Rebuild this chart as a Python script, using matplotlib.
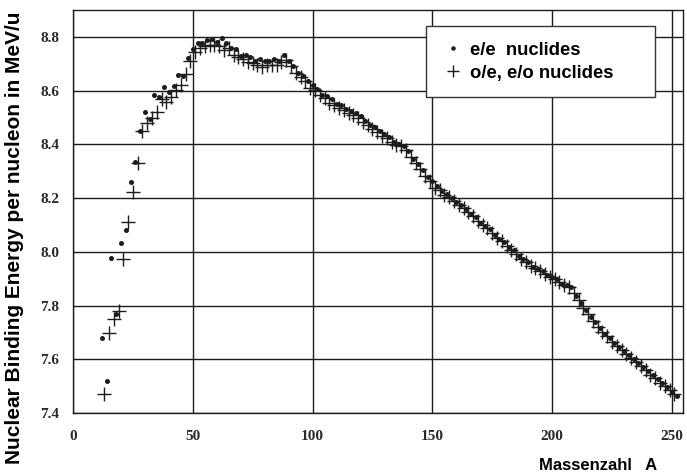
import matplotlib
matplotlib.use("Agg")
import matplotlib.pyplot as plt
from matplotlib.patches import Rectangle
from matplotlib.font_manager import FontProperties

# ---------------- data ----------------
# even mass numbers (e/e nuclides)
ee_A = list(range(12, 253, 2))
ee_B = [7.680, 7.520, 7.976, 7.767, 8.032, 8.080, 8.261, 8.334, 8.448, 8.521,
        8.493, 8.584, 8.575, 8.614, 8.595, 8.617, 8.658, 8.656, 8.723, 8.756,
        8.776, 8.778, 8.790, 8.792, 8.781, 8.795, 8.777, 8.760, 8.756, 8.730,
        8.732, 8.725, 8.711, 8.718, 8.711, 8.711, 8.717, 8.712, 8.733, 8.710, 8.693,
        8.667, 8.654, 8.635, 8.619, 8.607, 8.585, 8.580, 8.567, 8.551, 8.545,
        8.532, 8.523, 8.517, 8.505, 8.488, 8.473, 8.463, 8.449, 8.438, 8.428,
        8.408, 8.403, 8.394, 8.376, 8.346, 8.327, 8.304, 8.280, 8.262, 8.244,
        8.225, 8.215, 8.202, 8.184, 8.173, 8.159, 8.142, 8.130, 8.106, 8.097,
        8.084, 8.061, 8.049, 8.035, 8.018, 8.005, 7.983, 7.973, 7.962, 7.942,
        7.936, 7.927, 7.914, 7.906, 7.897, 7.880, 7.875, 7.868, 7.834, 7.810,
        7.785, 7.759, 7.737, 7.717, 7.694, 7.680, 7.662, 7.645, 7.631, 7.615,
        7.601, 7.586, 7.570, 7.556, 7.541, 7.525, 7.511, 7.497, 7.480, 7.465]

# odd mass numbers (o/e, e/o nuclides)
oe_A = list(range(13, 252, 2))
oe_B = [7.470, 7.699, 7.751, 7.779, 7.972, 8.112, 8.223, 8.332, 8.449, 8.481,
        8.498, 8.520, 8.570, 8.557, 8.576, 8.601, 8.619, 8.661, 8.711, 8.742,
        8.760, 8.765, 8.770, 8.768, 8.765, 8.752, 8.757, 8.734, 8.725, 8.718,
        8.705, 8.701, 8.695, 8.688, 8.696, 8.696, 8.697, 8.705, 8.714, 8.693,
        8.664, 8.649, 8.635, 8.609, 8.601, 8.584, 8.571, 8.554, 8.548, 8.537,
        8.527, 8.517, 8.510, 8.499, 8.482, 8.472, 8.458, 8.445, 8.431, 8.424,
        8.410, 8.398, 8.392, 8.378, 8.354, 8.330, 8.309, 8.281, 8.263, 8.239,
        8.229, 8.213, 8.204, 8.189, 8.173, 8.162, 8.147, 8.132, 8.115, 8.098,
        8.087, 8.069, 8.052, 8.039, 8.023, 8.008, 7.991, 7.974, 7.963, 7.948,
        7.938, 7.927, 7.916, 7.905, 7.898, 7.887, 7.878, 7.870, 7.848, 7.819,
        7.791, 7.768, 7.744, 7.721, 7.701, 7.685, 7.665, 7.651, 7.635, 7.618,
        7.604, 7.591, 7.575, 7.560, 7.543, 7.530, 7.512, 7.501, 7.486, 7.470]

x_ticks = [0, 50, 100, 150, 200, 250]
y_ticks = [7.4, 7.6, 7.8, 8.0, 8.2, 8.4, 8.6, 8.8]
x_tick_labels = ["0", "50", "100", "150", "200", "250"]
y_tick_labels = ["7.4", "7.6", "7.8", "8.0", "8.2", "8.4", "8.6", "8.8"]

legend_labels = ["e/e  nuclides", "o/e, e/o nuclides"]
y_label = "Nuclear Binding Energy per nucleon in MeV/u"
x_label = "Massenzahl   A"

# ---------------- figure ----------------
W, H = 687, 475
fig = plt.figure(figsize=(W / 100, H / 100), dpi=100)
ax_l, ax_r, ax_t, ax_b = 73, 683, 10, 413
ax = fig.add_axes([ax_l / W, 1 - ax_b / H, (ax_r - ax_l) / W, (ax_b - ax_t) / H])

ink = "#1c1c1c"
ax.set_xlim(0, 254.6)
ax.set_ylim(7.4, 8.9)

ax.set_xticks(x_ticks)
ax.set_xticklabels(x_tick_labels)
ax.set_yticks(y_ticks)
ax.set_yticklabels(y_tick_labels)
ax.tick_params(axis="both", length=0, colors=ink)
ax.tick_params(axis="x", pad=12)
ax.tick_params(axis="y", pad=10)
for lab in ax.get_xticklabels() + ax.get_yticklabels():
    lab.set_fontfamily("Liberation Serif")
    lab.set_fontsize(11)
    lab.set_fontweight("bold")
    lab.set_color("#2a2a2a")

ax.grid(True, color=ink, linewidth=1.0)
ax.set_axisbelow(True)
for sp in ax.spines.values():
    sp.set_color(ink)
    sp.set_linewidth(1.0)

h1, = ax.plot(ee_A, ee_B, linestyle="none", marker="o", markersize=3.6,
              color=ink, markeredgewidth=0, label=legend_labels[0], zorder=3)
h2, = ax.plot(oe_A, oe_B, linestyle="none", marker="+", markersize=9.5,
              markeredgewidth=1.0, color=ink, label=legend_labels[1], zorder=3)

# legend box
bx0, bx1, by0, by1 = 426, 655, 26, 97
ax.add_patch(Rectangle(((bx0 - ax_l) / (ax_r - ax_l), (ax_b - by1) / (ax_b - ax_t)),
                       (bx1 - bx0) / (ax_r - ax_l), (by1 - by0) / (ax_b - ax_t),
                       transform=ax.transAxes, facecolor="white", edgecolor="#333333",
                       linewidth=1.0, zorder=4))
leg_font = FontProperties(family="Liberation Sans", weight="bold", style="normal", size=13.3)
leg = ax.legend(handles=[h1, h2], loc="upper left",
                bbox_to_anchor=((bx0 - ax_l) / (ax_r - ax_l), (ax_b - by0) / (ax_b - ax_t)),
                borderaxespad=0, borderpad=0.85, frameon=False, handlelength=1.2,
                handletextpad=0.35, labelspacing=0.32, markerscale=0.9, prop=leg_font)
leg.set_zorder(5)
for t in leg.get_texts():
    t.set_color("black")

label_font = dict(family="Liberation Sans", weight="bold", style="normal", color="black")
fig.text(15 / W, 1 - 238 / H, y_label, rotation=90, ha="center", va="center",
         fontsize=15.0, **label_font)
fig.text(539 / W, 1 - 465 / H, x_label, ha="left", va="center",
         fontsize=12.0, **label_font)

fig.savefig("out.png", dpi=100, facecolor="white")
